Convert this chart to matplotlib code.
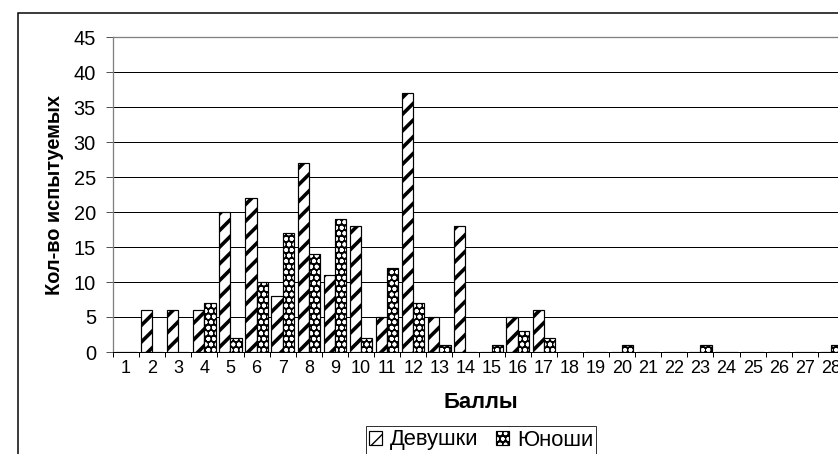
"""
Распределение баллов: девушки / юноши (столбчатая диаграмма с штриховкой).
"""
import numpy as np
import matplotlib
matplotlib.use("Agg")
import matplotlib.pyplot as plt
from matplotlib.patches import Rectangle
from matplotlib.legend_handler import HandlerTuple
from matplotlib.ticker import FixedLocator, NullFormatter

plt.rcParams["font.family"] = ["Liberation Sans", "DejaVu Sans"]

# ── данные ──
scores = list(range(1, 29))
girls = [0, 6, 6, 6, 20, 22, 8, 27, 11, 18, 5, 37, 5, 18,
         0, 5, 6, 0, 0, 0, 0, 0, 0, 0, 0, 0, 0, 0]
boys = [0, 0, 0, 7, 2, 10, 17, 14, 19, 2, 12, 7, 1, 0,
        1, 3, 2, 0, 0, 1, 0, 0, 1, 0, 0, 0, 0, 1]
y_ticks = list(range(0, 50, 5))
series_names = ["Девушки", "Юноши"]

DPI = 100
W, H = 838, 454
PX = 72.0 / DPI          # пиксели -> пункты
fig = plt.figure(figsize=(W / DPI, H / DPI), dpi=DPI)

# область построения (выходит за правый край, как на исходнике)
x0, x1, y_top, y_bot = 113, 844, 37, 352
ax = fig.add_axes([x0 / W, 1 - y_bot / H, (x1 - x0) / W, (y_bot - y_top) / H])

x = np.array(scores)
bw = 0.43

GIRL_HATCH, BOY_HATCH = "//", "ooo"

g_bars = ax.bar(x - bw / 2, girls, width=bw, facecolor="white",
                edgecolor="black", hatch=GIRL_HATCH, linewidth=1.2 * PX, zorder=3)
b_fill = ax.bar(x + bw / 2, boys, width=bw, facecolor="black",
                edgecolor="white", hatch=BOY_HATCH, linewidth=0, zorder=3)
b_edge = ax.bar(x + bw / 2, boys, width=bw, fill=False,
                edgecolor="black", linewidth=1.2 * PX, zorder=4)

h_g = Rectangle((0, 0), 1, 1, facecolor="white", edgecolor="black",
                hatch=GIRL_HATCH, linewidth=1.2 * PX)
h_bf = Rectangle((0, 0), 1, 1, facecolor="black", edgecolor="white",
                 hatch=BOY_HATCH, linewidth=0)
h_be = Rectangle((0, 0), 1, 1, fill=False, edgecolor="black", linewidth=1.2 * PX)

for p in list(g_bars) + [h_g]:
    if hasattr(p, "set_hatch_linewidth"):
        p.set_hatch_linewidth(3.6 * PX)
for p in list(b_fill) + [h_bf]:
    if hasattr(p, "set_hatch_linewidth"):
        p.set_hatch_linewidth(1.7 * PX)

ax.set_xlim(0.5, len(scores) + 0.5)
ax.set_ylim(0, 45)
ax.set_yticks(y_ticks)
ax.yaxis.grid(True, color="black", linewidth=1.0 * PX)
ax.set_axisbelow(True)

# деления по границам категорий, подписи — по центрам
ax.xaxis.set_major_locator(FixedLocator(np.arange(0.5, len(scores) + 1, 1)))
ax.xaxis.set_major_formatter(NullFormatter())
ax.xaxis.set_minor_locator(FixedLocator(x))
ax.set_xticklabels([str(s) for s in scores], minor=True)
ax.tick_params(axis="x", which="major", length=5 * PX, width=1 * PX,
               color="black", direction="out")
ax.tick_params(axis="x", which="minor", length=0, pad=8 * PX, labelsize=18 * PX)
ax.tick_params(axis="y", length=7 * PX, width=1 * PX, color="#555555",
               pad=10 * PX, labelsize=20 * PX)

for side in ("top", "left"):
    ax.spines[side].set_color("#808080")
    ax.spines[side].set_linewidth(1.3 * PX)
ax.spines["right"].set_visible(False)
ax.spines["bottom"].set_color("black")
ax.spines["bottom"].set_linewidth(1.0 * PX)

ax.set_ylabel("Кол-во испытуемых", fontsize=20 * PX, fontweight="bold",
              labelpad=10 * PX)
fig.text(481 / W, 1 - 402 / H, "Баллы", fontsize=22 * PX, fontweight="bold",
         ha="center", va="center")

# легенда
leg = fig.legend([h_g, (h_bf, h_be)], series_names, ncol=2,
                 loc="center", bbox_to_anchor=(481 / W, 1 - 440 / H),
                 fontsize=22 * PX, frameon=True, fancybox=False, shadow=False,
                 handlelength=0.6, handleheight=0.6, handletextpad=0.35,
                 columnspacing=0.8, borderpad=0.15, borderaxespad=0,
                 handler_map={tuple: HandlerTuple(ndivide=1)})
leg.get_frame().set_edgecolor("black")
leg.get_frame().set_linewidth(1.0 * PX)

# рамка области диаграммы
fig.patches.append(Rectangle((17.5 / W, -0.1), 1.2, 1 - 12.5 / H + 0.1,
                             transform=fig.transFigure, fill=False,
                             edgecolor="black", linewidth=1.5 * PX, zorder=0))

fig.savefig("out.png", dpi=DPI)
